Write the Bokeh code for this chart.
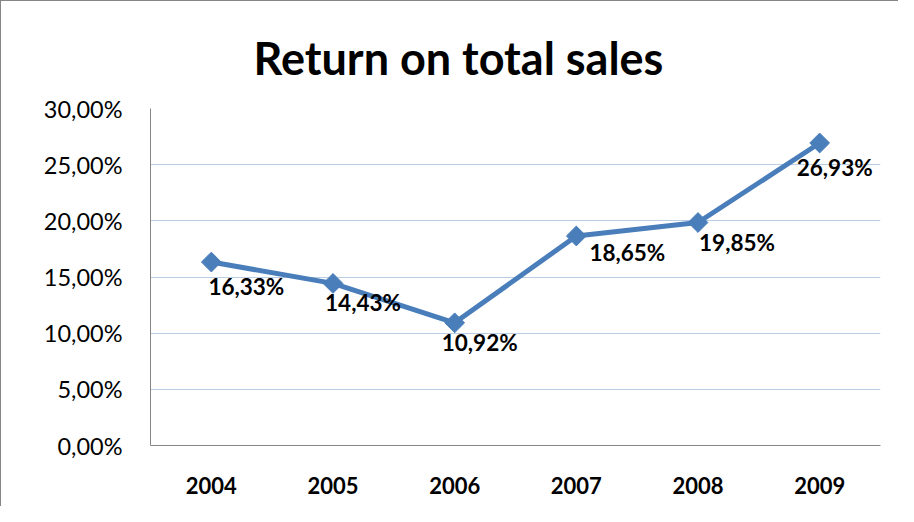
import math
from bokeh.plotting import figure
from bokeh.models import ColumnDataSource, CustomJSTickFormatter, FixedTicker, Title
from bokeh.core.properties import value
from bokeh.embed import file_html
from bokeh.resources import INLINE

years = ["2004", "2005", "2006", "2007", "2008", "2009"]
returns = [16.33, 14.43, 10.92, 18.65, 19.85, 26.93]
labels = ["16,33%", "14,43%", "10,92%", "18,65%", "19,85%", "26,93%"]
y_ticks = [0, 5, 10, 15, 20, 25, 30]
# per-label placement offsets in screen pixels (style, not data)
label_dx = [35, 30, 25, 51, 39, 15]
label_dy = [24, 19, 20, 17, 20, 25]

FONT = "Lato"
BLUE = "#4a7ebb"
GRAY = "#868686"

source = ColumnDataSource(dict(year=years, ret=returns, label=labels,
                               dx=label_dx, dy=label_dy))

p = figure(width=898, height=506, x_range=years, y_range=(0, 30),
           output_backend="svg", toolbar_location=None,
           min_border_left=149, min_border_right=19,
           min_border_top=107, min_border_bottom=62)
p.x_range.range_padding = 0
p.styles = {"border-left": f"1px solid {GRAY}", "border-top": f"1px solid {GRAY}"}

p.add_layout(Title(text="Return on total sales", align="left",
                   text_font=FONT, text_font_size="45px", offset=103,
                   standoff=48,
                   text_font_style="bold", text_color="black"), "above")

p.outline_line_color = None
p.background_fill_color = "white"
p.border_fill_color = "white"

p.xgrid.grid_line_color = None
p.ygrid.grid_line_color = "#b9cde5"
p.ygrid.grid_line_width = 1
p.ygrid.ticker = FixedTicker(ticks=y_ticks)

p.yaxis.ticker = FixedTicker(ticks=y_ticks)
p.yaxis.formatter = CustomJSTickFormatter(
    code="return tick.toFixed(2).replace('.', ',') + '%';")
for ax in (p.xaxis, p.yaxis):
    ax.axis_line_color = GRAY
    ax.axis_line_width = 1
    ax.major_tick_line_color = None
    ax.minor_tick_line_color = None
    ax.major_label_text_font = FONT
    ax.major_label_text_color = "black"
p.yaxis.major_label_text_font_size = "23.5px"
p.xaxis.major_label_text_font_size = "22px"
p.yaxis.major_label_standoff = 22
p.xaxis.major_label_standoff = 25
p.xaxis.major_label_text_font_style = "bold"

p.line("year", "ret", source=source, line_color=BLUE, line_width=5)
p.scatter("year", "ret", source=source, marker="square", size=14,
          angle=math.pi / 4, fill_color=BLUE, line_color=BLUE)
p.text("year", "ret", text="label", source=source, x_offset="dx", y_offset="dy",
       text_align="center", text_baseline="middle",
       text_font=value(FONT), text_font_size="22.5px", text_font_style="bold",
       text_color="black")

open("out.html", "w").write(file_html(p, INLINE))
